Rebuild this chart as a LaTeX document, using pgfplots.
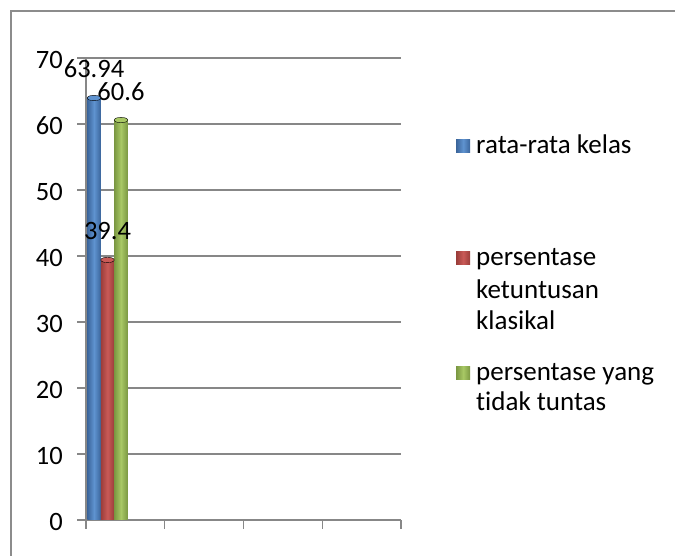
\documentclass[border=0pt]{standalone}
\usepackage{fontspec}
\setmainfont{Carlito}[Ligatures=NoCommon]
\usepackage{pgfplots}
\pgfplotsset{compat=1.18}

\definecolor{frame}{HTML}{8C8C8C}
\definecolor{gridc}{HTML}{878787}
\definecolor{blueS}{HTML}{4F81BD}
\definecolor{blueE}{HTML}{3B659B}
\definecolor{blueM}{HTML}{5F93D0}
\definecolor{redS}{HTML}{C0504D}
\definecolor{redE}{HTML}{9A3D3A}
\definecolor{redM}{HTML}{C95A57}
\definecolor{greenS}{HTML}{9BBB59}
\definecolor{greenE}{HTML}{7B9842}
\definecolor{greenM}{HTML}{A8C865}

% legend line with a fixed distance to the previous baseline
\newcommand{\row}[2]{\raisebox{0pt}[#1][0pt]{#2}}

\pgfplotsset{
  valuelabel/.style={nodes near coords,
    every node near coord/.append style={font=\fontsize{26.5}{31}\selectfont,
      anchor=base, inner sep=0pt, yshift=20pt}},
  cap/.style={forget plot, only marks, mark=*, mark size=6.75pt,
    mark options={yscale=0.4, fill=#1, draw=none}},
}

\begin{document}
\begin{tikzpicture}[x=1pt,y=1pt]
\useasboundingbox (0,0) rectangle (675,556);
\draw[line width=1.3pt, color=frame] (11,0) -- (11,545) -- (675,545);
\begin{axis}[
  at={(86pt,36pt)}, anchor=south west,
  scale only axis, width=315pt, height=462pt,
  xmin=0, xmax=4, ymin=0, ymax=70,
  xtick={0,1,2,3,4}, xticklabels={},
  ytick={0,10,...,70},
  axis x line*=bottom, axis y line*=left,
  axis line style={line width=1.6pt, color=gridc, -},
  ymajorgrids, grid style={line width=1.6pt, color=gridc},
  tick align=outside, major tick length=9pt,
  tick style={line width=1.4pt, color=gridc},
  /pgf/number format/assume math mode=true,
  tick label style={font=\fontsize{26.5}{31}\selectfont},
  yticklabel style={inner sep=0pt, xshift=-14pt, yshift=-2pt},
  legend style={draw=none, fill=none, inner sep=0pt, row sep=0pt, column sep=4pt,
    cells={anchor=base west, inner sep=0pt},
    font=\fontsize{27}{32}\selectfont,
    at={(1.1746,0.8463)}, anchor=north west},
]
% bars
\addplot[ybar, bar shift=0pt, bar width=0.171, valuelabel,
  draw=none, left color=blueE, right color=blueE, middle color=blueM,
  legend image code/.code={\fill[blueS] (0pt,1pt) rectangle (14pt,14pt);}]
  coordinates {(0.102,63.94)};
\addlegendentry{\row{22pt}{rata-rata kelas}}
\addplot[ybar, bar shift=0pt, bar width=0.171, valuelabel,
  draw=none, left color=redE, right color=redE, middle color=redM,
  legend image code/.code={\fill[redS] (0pt,1pt) rectangle (14pt,14pt);}]
  coordinates {(0.273,39.4)};
\addlegendentry{\row{107pt}{persentase}}
\addlegendimage{empty legend}
\addlegendentry{\row{27pt}{ketuntusan}}
\addlegendimage{empty legend}
\addlegendentry{\row{26pt}{klasikal}}
\addplot[ybar, bar shift=0pt, bar width=0.171, valuelabel,
  draw=none, left color=greenE, right color=greenE, middle color=greenM,
  legend image code/.code={\fill[greenS] (0pt,1pt) rectangle (14pt,14pt);}]
  coordinates {(0.444,60.6)};
\addlegendentry{\row{45pt}{persentase yang}}
\addlegendimage{empty legend}
\addlegendentry{\row{25pt}{tidak tuntas}}
% rounded tops of the cylinders
\addplot[cap=blueM]  coordinates {(0.102,63.94)};
\addplot[cap=redM]   coordinates {(0.273,39.4)};
\addplot[cap=greenM] coordinates {(0.444,60.6)};
\end{axis}
\end{tikzpicture}
\end{document}
